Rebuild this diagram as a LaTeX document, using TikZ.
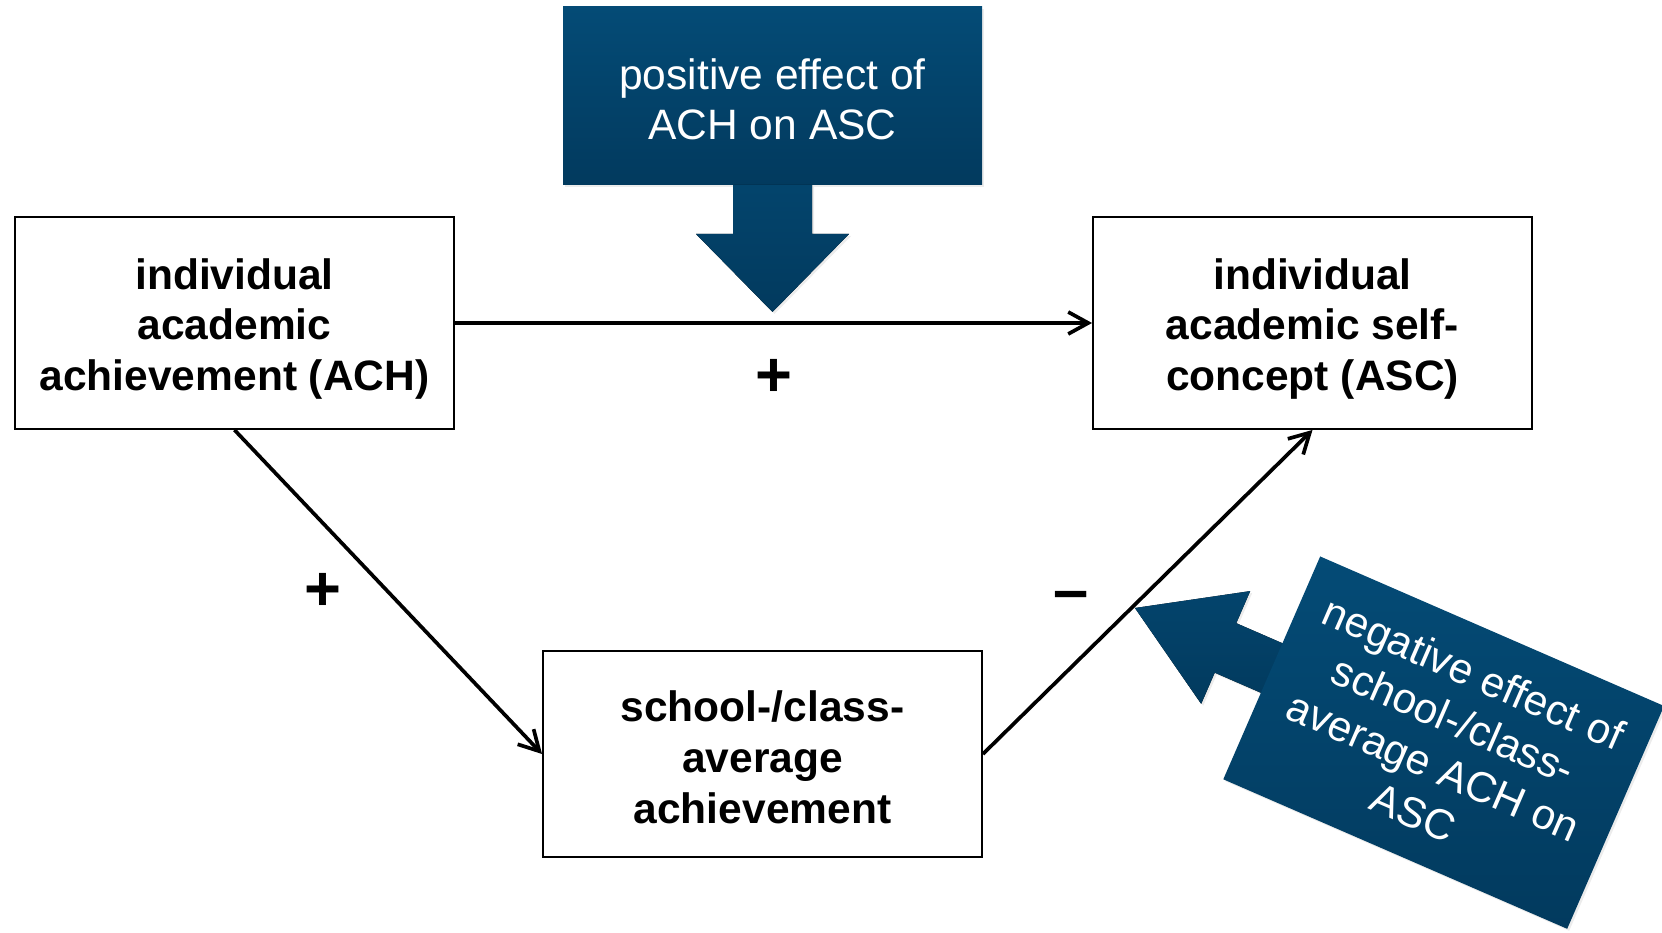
\documentclass[tikz,border=0pt]{standalone}
\usepackage{fontspec}
\setmainfont{Liberation Sans}
\usepackage{tikz}
\usetikzlibrary{positioning,arrows.meta,shadows}
\definecolor{navytop}{HTML}{044B76}
\definecolor{navybot}{HTML}{023A5E}
\newcommand{\boxstrut}[1]{\rule{0pt}{#1}}

\begin{document}
\begin{tikzpicture}[
    varbox/.style={draw=black, line width=1.1pt, fill=white, minimum width=8.78cm, minimum height=4.24cm,
      align=center, font=\fontsize{24.2}{28.8}\selectfont\bfseries},
    effect/.style={align=center, text=white, font=\fontsize{24.2}{28.8}\selectfont,
      top color=navytop, bottom color=navybot, drop shadow={opacity=0.15, shadow xshift=0.04cm, shadow yshift=-0.04cm}},
    effectarrow/.style={top color=navytop!60!navybot, bottom color=navybot, drop shadow={opacity=0.15, shadow xshift=0.04cm, shadow yshift=-0.04cm}},
    link/.style={line width=2.1pt, -{Straight Barb[length=4mm,width=4.4mm]}},
    sign/.style={font=\fontsize{36}{40}\selectfont\bfseries}]
      \useasboundingbox (0,0) rectangle (33.24,-18.66);

      % the three variables
      \node[varbox] (ach) at (4.69,-6.46) {\boxstrut{0.85cm}individual\\academic\\achievement (ACH)};
      \node[varbox] (asc) at (26.25,-6.46) {\boxstrut{0.85cm}individual\\academic self-\\concept (ASC)};
      \node[varbox, minimum height=4.12cm] (avg) at (15.25,-15.08) {\boxstrut{0.75cm}school-/class-\\average\\achievement};

      % paths between them
      \draw[link] (ach.east) -- node[sign, midway, yshift=-1.1cm] {+} (asc.west);
      \draw[link] (ach.south) -- node[sign, midway, xshift=-1.31cm, yshift=0cm] {+} (avg.west);
      \draw[link] (avg.east) -- node[sign, midway, xshift=-1.54cm, yshift=-0.18cm] {--} (asc.south);

      % positive effect callout
      \node[effect, minimum width=8.38cm, minimum height=3.56cm] (pos) at (15.45,-1.92) {\boxstrut{0.75cm}positive effect of\\ACH on ASC};
      \fill[effectarrow] (14.66,-3.70) -- (14.66,-4.68) -- (13.92,-4.68) -- (15.45,-6.24)
        -- (16.98,-4.68) -- (16.24,-4.68) -- (16.24,-3.70) -- cycle;

      % negative effect callout, tilted
      \begin{scope}[shift={(26.4,-11.12)}, rotate=-23.5, transform shape]
        \fill[effectarrow] (0.05,-1.90) -- (-1.0,-1.90) -- (-1.0,-1.20) -- (-2.98,-2.43)
          -- (-1.0,-3.66) -- (-1.0,-2.98) -- (0.05,-2.98) -- cycle;
        \node[effect, minimum width=7.5cm, minimum height=4.86cm, anchor=north west] (neg) at (0,0)
          {negative effect of\\school-/class-\\average ACH on\\ASC};
      \end{scope}
    \end{tikzpicture}
\end{document}
